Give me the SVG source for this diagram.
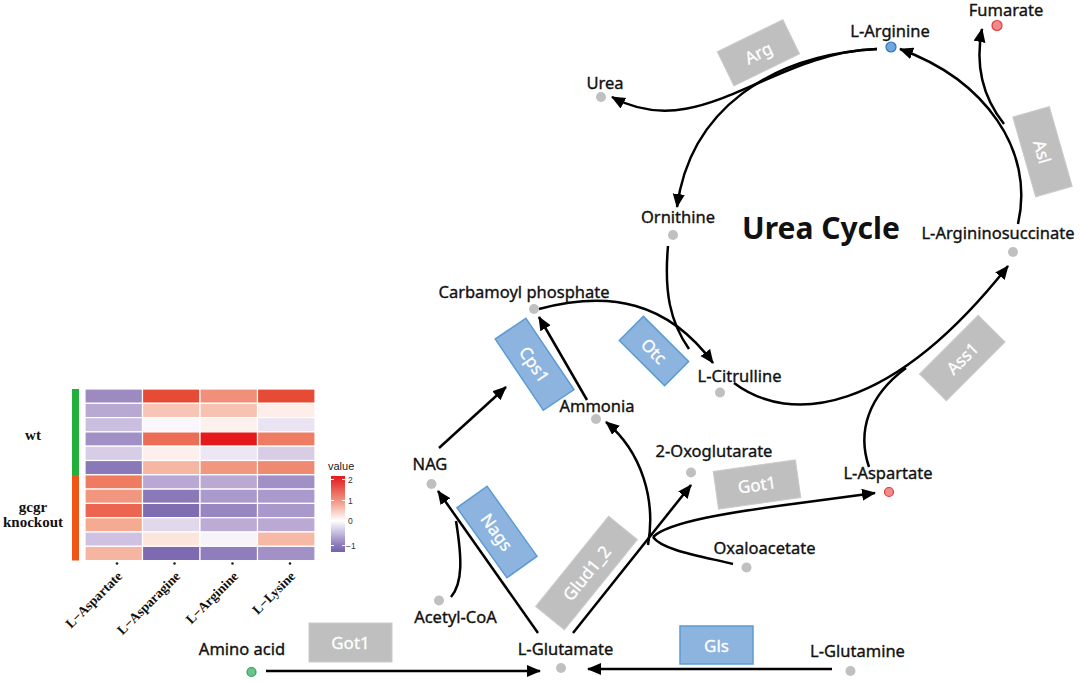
<svg xmlns="http://www.w3.org/2000/svg" width="1084" height="682" viewBox="0 0 1084 682">
<style>
.lbl{font-family:"Noto Sans","Liberation Sans",sans-serif;font-size:16.5px;fill:#111;stroke:#111;stroke-width:0.35;text-anchor:middle}
.enz{font-family:"Noto Sans","Liberation Sans",sans-serif;font-size:17px;fill:#fff;stroke:#fff;stroke-width:0.3;text-anchor:middle;dominant-baseline:central}
.gbox{fill:#bfbfbf;stroke:#cacaca;stroke-width:1}
.bbox{fill:#8db4de;stroke:#5b9bd5;stroke-width:1.5}
.dot{fill:#c0c0c0}
.con path{fill:none;stroke:#000;stroke-width:2.5}
.arr{marker-end:url(#ah)}
.hm rect{stroke:#fff;stroke-width:1.2}
.ser{font-family:"Liberation Serif","DejaVu Serif",serif;font-weight:bold;fill:#111}
</style>
<defs>
<marker id="ah" markerUnits="userSpaceOnUse" markerWidth="15" markerHeight="13" refX="13" refY="6" orient="auto">
<path d="M0,0 L14,6 L0,12 z" fill="#000"/>
</marker>
<linearGradient id="lg" x1="0" y1="0" x2="0" y2="1">
<stop offset="0" stop-color="#e3191c"/>
<stop offset="0.3" stop-color="#f08a78"/>
<stop offset="0.59" stop-color="#ffffff"/>
<stop offset="0.9" stop-color="#8d7cbc"/>
<stop offset="1" stop-color="#7463aa"/>
</linearGradient>
</defs>
<rect width="1084" height="682" fill="#fff"/>

<g id="heatmap">
<rect x="72" y="389" width="7" height="86" fill="#22b03c"/>
<rect x="72" y="475" width="7" height="85.5" fill="#ee5516"/>
<g class="hm">
<rect x="85" y="389" width="57.5" height="14.3" fill="#9d8ac1"/><rect x="142.5" y="389" width="57.5" height="14.3" fill="#e64b35"/><rect x="200" y="389" width="57.5" height="14.3" fill="#f0907b"/><rect x="257.5" y="389" width="57.5" height="14.3" fill="#e64b35"/>
<rect x="85" y="403.3" width="57.5" height="14.3" fill="#b8a9d3"/><rect x="142.5" y="403.3" width="57.5" height="14.3" fill="#f7c5b6"/><rect x="200" y="403.3" width="57.5" height="14.3" fill="#f7c2b2"/><rect x="257.5" y="403.3" width="57.5" height="14.3" fill="#fdeee9"/>
<rect x="85" y="417.6" width="57.5" height="14.3" fill="#cbbfe0"/><rect x="142.5" y="417.6" width="57.5" height="14.3" fill="#f9f7fb"/><rect x="200" y="417.6" width="57.5" height="14.3" fill="#fdf1ee"/><rect x="257.5" y="417.6" width="57.5" height="14.3" fill="#e9e3f2"/>
<rect x="85" y="431.9" width="57.5" height="14.3" fill="#a190c5"/><rect x="142.5" y="431.9" width="57.5" height="14.3" fill="#ec6d55"/><rect x="200" y="431.9" width="57.5" height="14.3" fill="#e5191c"/><rect x="257.5" y="431.9" width="57.5" height="14.3" fill="#ee7c62"/>
<rect x="85" y="446.2" width="57.5" height="14.3" fill="#d8cde6"/><rect x="142.5" y="446.2" width="57.5" height="14.3" fill="#fdefeb"/><rect x="200" y="446.2" width="57.5" height="14.3" fill="#ede7f3"/><rect x="257.5" y="446.2" width="57.5" height="14.3" fill="#d9cde6"/>
<rect x="85" y="460.5" width="57.5" height="14.3" fill="#8a79b8"/><rect x="142.5" y="460.5" width="57.5" height="14.3" fill="#f5b6a3"/><rect x="200" y="460.5" width="57.5" height="14.3" fill="#f2977f"/><rect x="257.5" y="460.5" width="57.5" height="14.3" fill="#ef8a72"/>
<rect x="85" y="474.8" width="57.5" height="14.3" fill="#ef7c61"/><rect x="142.5" y="474.8" width="57.5" height="14.3" fill="#b8a8d3"/><rect x="200" y="474.8" width="57.5" height="14.3" fill="#b9a9d3"/><rect x="257.5" y="474.8" width="57.5" height="14.3" fill="#a090c5"/>
<rect x="85" y="489.1" width="57.5" height="14.3" fill="#f2977f"/><rect x="142.5" y="489.1" width="57.5" height="14.3" fill="#8a78b8"/><rect x="200" y="489.1" width="57.5" height="14.3" fill="#a999cc"/><rect x="257.5" y="489.1" width="57.5" height="14.3" fill="#a999cc"/>
<rect x="85" y="503.4" width="57.5" height="14.3" fill="#ec6550"/><rect x="142.5" y="503.4" width="57.5" height="14.3" fill="#7f6cb1"/><rect x="200" y="503.4" width="57.5" height="14.3" fill="#9886c1"/><rect x="257.5" y="503.4" width="57.5" height="14.3" fill="#a898cc"/>
<rect x="85" y="517.7" width="57.5" height="14.3" fill="#f5aa92"/><rect x="142.5" y="517.7" width="57.5" height="14.3" fill="#e1d8ec"/><rect x="200" y="517.7" width="57.5" height="14.3" fill="#bcabd4"/><rect x="257.5" y="517.7" width="57.5" height="14.3" fill="#b9a9d3"/>
<rect x="85" y="532" width="57.5" height="14.3" fill="#cec1e1"/><rect x="142.5" y="532" width="57.5" height="14.3" fill="#fbe5dd"/><rect x="200" y="532" width="57.5" height="14.3" fill="#f6f3f9"/><rect x="257.5" y="532" width="57.5" height="14.3" fill="#f6b9a5"/>
<rect x="85" y="546.3" width="57.5" height="14.3" fill="#f6b5a0"/><rect x="142.5" y="546.3" width="57.5" height="14.3" fill="#7d6ab0"/><rect x="200" y="546.3" width="57.5" height="14.3" fill="#907ebc"/><rect x="257.5" y="546.3" width="57.5" height="14.3" fill="#a291c6"/>
</g>
<text class="ser" x="33" y="440" font-size="15" text-anchor="middle">wt</text>
<text class="ser" x="33" y="512" font-size="15" text-anchor="middle">gcgr</text>
<text class="ser" x="33" y="527" font-size="15" text-anchor="middle">knockout</text>
<g fill="#222">
<circle cx="117" cy="563.5" r="1.3"/><circle cx="174.5" cy="563.5" r="1.3"/><circle cx="232.5" cy="563.5" r="1.3"/><circle cx="290" cy="563.5" r="1.3"/>
</g>
<text class="ser" font-size="13.5" text-anchor="end" transform="translate(123,577) rotate(-45)">L−Aspartate</text>
<text class="ser" font-size="13.5" text-anchor="end" transform="translate(181,577) rotate(-45)">L−Asparagine</text>
<text class="ser" font-size="13.5" text-anchor="end" transform="translate(239,577) rotate(-45)">L−Arginine</text>
<text class="ser" font-size="13.5" text-anchor="end" transform="translate(296,577) rotate(-45)">L−Lysine</text>
<text x="328" y="470" font-family="Liberation Sans,sans-serif" font-size="11" fill="#222">value</text>
<rect x="331" y="476" width="14" height="76" fill="url(#lg)"/>
<g stroke="#fff" stroke-width="1">
<path d="M331,479.5h3M342,479.5h3M331,500.5h3M342,500.5h3M331,521h3M342,521h3M331,545.5h3M342,545.5h3"/>
</g>
<g font-family="Liberation Sans,sans-serif" font-size="8.5" fill="#333">
<text x="348" y="482.5">2</text><text x="348" y="503.5">1</text><text x="348" y="524">0</text><text x="346" y="548.5">−1</text>
</g>
</g>

<g id="connectors" class="con">
<path class="arr" d="M266,671 L540,671"/>
<path class="arr" d="M832,669 L588,669"/>
<path class="arr" d="M538,633 L438,491"/>
<path d="M451,597 C463,583 462,558 456,521"/>
<path class="arr" d="M573,633 L691,485"/>
<path class="arr" d="M648,545 C656,500 642,452 606,422"/>
<path d="M733,564 C700,556 662,550 653,537"/>
<path class="arr" d="M653,537 C668,522 730,512 800,503 L875,493"/>
<path class="arr" d="M587,400 L539,317"/>
<path class="arr" d="M439,448 L506,387"/>
<path class="arr" d="M539,309 C610,290 668,302 713,363"/>
<path d="M668,246 C664,292 670,322 689,349"/>
<path class="arr" d="M734,383 C790,425 890,415 1008,266"/>
<path d="M869,467 C857,432 868,396 906,368"/>
<path class="arr" d="M1018,224 C1035,150 985,80 900,49"/>
<path class="arr" d="M1004,124 C985,100 974,70 982,29"/>
<path class="arr" d="M877,49 C770,52 700,145 612,97"/>
<path class="arr" d="M877,49 C770,55 690,110 677,207"/>
</g>

<g id="urea-cycle-title"><text x="821" y="239" font-family="Noto Sans,Liberation Sans,sans-serif" font-weight="bold" font-size="30" text-anchor="middle" fill="#111">Urea Cycle</text></g>

<g id="node-l-arginine"><circle cx="891" cy="47" r="5" fill="#6fa8dc" stroke="#2e75b6" stroke-width="1.2"/><text class="lbl" x="890" y="37">L-Arginine</text></g>
<g id="node-fumarate"><circle cx="997" cy="25.5" r="5" fill="#f28a8a" stroke="#e03a3a" stroke-width="1.2"/><text class="lbl" x="1006" y="16">Fumarate</text></g>
<g id="node-urea"><circle class="dot" cx="601" cy="97" r="5"/><text class="lbl" x="605" y="89">Urea</text></g>
<g id="node-ornithine"><circle class="dot" cx="673" cy="235" r="5"/><text class="lbl" x="678" y="222.5">Ornithine</text></g>
<g id="node-l-argininosuccinate"><circle class="dot" cx="1013" cy="252" r="5"/><text class="lbl" x="998" y="238.5">L-Argininosuccinate</text></g>
<g id="node-carbamoyl-phosphate"><circle class="dot" cx="534" cy="309" r="5"/><text class="lbl" x="524" y="298">Carbamoyl phosphate</text></g>
<g id="node-l-citrulline"><circle class="dot" cx="720" cy="392.5" r="5"/><text class="lbl" x="739.5" y="381.5">L-Citrulline</text></g>
<g id="node-ammonia"><circle class="dot" cx="596" cy="419" r="5"/><text class="lbl" x="597" y="411.5">Ammonia</text></g>
<g id="node-2-oxoglutarate"><circle class="dot" cx="691" cy="472.5" r="5"/><text class="lbl" x="714" y="456.5">2-Oxoglutarate</text></g>
<g id="node-nag"><circle class="dot" cx="431.5" cy="484" r="5"/><text class="lbl" x="430" y="470">NAG</text></g>
<g id="node-acetyl-coa"><circle class="dot" cx="439" cy="600.5" r="5"/><text class="lbl" x="455.5" y="623">Acetyl-CoA</text></g>
<g id="node-l-glutamate"><circle class="dot" cx="561" cy="668" r="5"/><text class="lbl" x="565.5" y="655">L-Glutamate</text></g>
<g id="node-oxaloacetate"><circle class="dot" cx="746.5" cy="567.5" r="5"/><text class="lbl" x="764.5" y="554">Oxaloacetate</text></g>
<g id="node-l-aspartate"><circle cx="889" cy="492" r="4.5" fill="#f28a8a" stroke="#e03a3a" stroke-width="1.2"/><text class="lbl" x="888" y="479">L-Aspartate</text></g>
<g id="node-l-glutamine"><circle class="dot" cx="850.5" cy="671" r="5"/><text class="lbl" x="857.5" y="656.5">L-Glutamine</text></g>
<g id="node-amino-acid"><circle cx="251.5" cy="672" r="4.5" fill="#6cc38a" stroke="#2ca35a" stroke-width="1.2"/><text class="lbl" x="242" y="655">Amino acid</text></g>

<g id="enz-arg" transform="translate(758.4,52.8) rotate(-26)"><rect class="gbox" x="-36.5" y="-19" width="73" height="38"/><text class="enz" x="0" y="0">Arg</text></g>
<g id="enz-asl" transform="translate(1042.5,151.7) rotate(74)"><rect class="gbox" x="-41.5" y="-19" width="83" height="38"/><text class="enz" x="0" y="0">Asl</text></g>
<g id="enz-cps1" transform="translate(534.6,364.3) rotate(56)"><rect class="bbox" x="-43" y="-18.5" width="86" height="37"/><text class="enz" x="0" y="0">Cps1</text></g>
<g id="enz-otc" transform="translate(654,351) rotate(45)"><rect class="bbox" x="-32" y="-17" width="64" height="34"/><text class="enz" x="0" y="0">Otc</text></g>
<g id="enz-ass1" transform="translate(962.3,358) rotate(-45)"><rect class="gbox" x="-41.5" y="-19" width="83" height="38"/><text class="enz" x="0" y="0">Ass1</text></g>
<g id="enz-got1-right" transform="translate(757,484.5) rotate(-8)"><rect class="gbox" x="-41.5" y="-19" width="83" height="38"/><text class="enz" x="0" y="0">Got1</text></g>
<g id="enz-glud1-2" transform="translate(586.5,573) rotate(-51)"><rect class="gbox" x="-58" y="-18.5" width="116" height="37"/><text class="enz" x="0" y="0">Glud1_2</text></g>
<g id="enz-nags" transform="translate(497,532) rotate(54.5)"><rect class="bbox" x="-43" y="-18.5" width="86" height="37"/><text class="enz" x="0" y="0">Nags</text></g>
<g id="enz-gls"><rect class="bbox" x="680" y="626" width="73" height="38"/><text class="enz" x="716.5" y="645">Gls</text></g>
<g id="enz-got1-bottom"><rect class="gbox" x="309" y="623" width="83" height="39"/><text class="enz" x="350.5" y="642.5">Got1</text></g>
</svg>
